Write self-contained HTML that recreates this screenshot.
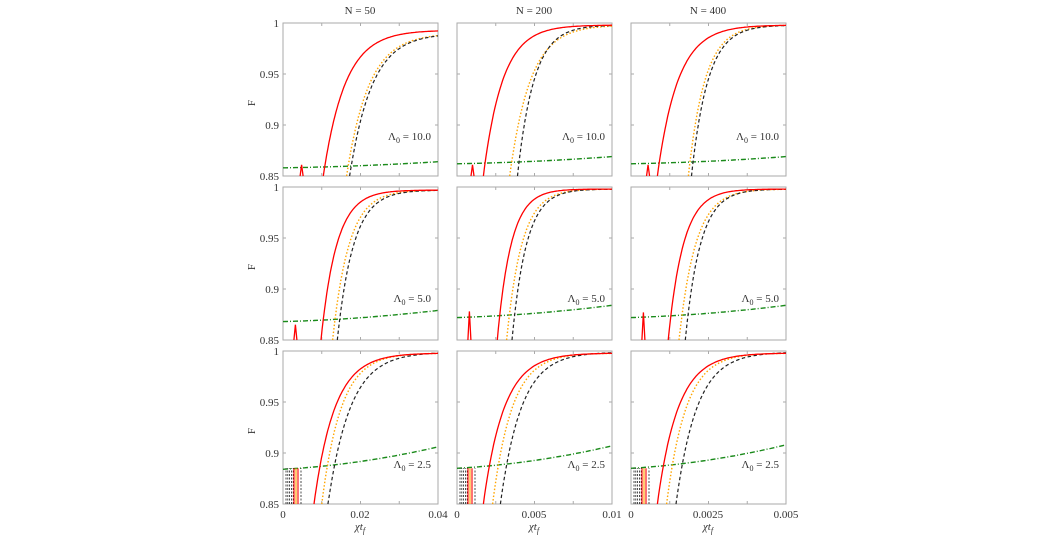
<!DOCTYPE html>
<html><head><meta charset="utf-8"><style>
html,body{margin:0;padding:0;background:#fff;}
svg{display:block;font-family:"Liberation Serif",serif;}
</style></head><body>
<svg id="s" width="1047" height="535" viewBox="0 0 1047 535" xmlns="http://www.w3.org/2000/svg">
<g font-size="11" fill="#333">
<text x="360" y="14" text-anchor="middle">N = 50</text>
<text x="534" y="14" text-anchor="middle">N = 200</text>
<text x="708" y="14" text-anchor="middle">N = 400</text>
<g text-anchor="end">
<text x="279" y="27">1</text><text x="279" y="78">0.95</text><text x="279" y="129">0.9</text><text x="279" y="180">0.85</text>
<text x="279" y="191">1</text><text x="279" y="242">0.95</text><text x="279" y="293">0.9</text><text x="279" y="344">0.85</text>
<text x="279" y="355">1</text><text x="279" y="406">0.95</text><text x="279" y="457">0.9</text><text x="279" y="508">0.85</text>
</g>
<text x="255" y="103" transform="rotate(-90 255 103)" text-anchor="middle">F</text>
<text x="255" y="267" transform="rotate(-90 255 267)" text-anchor="middle">F</text>
<text x="255" y="431" transform="rotate(-90 255 431)" text-anchor="middle">F</text>
<g text-anchor="middle">
<text x="283" y="518">0</text><text x="360" y="518">0.02</text><text x="438" y="518">0.04</text>
<text x="457" y="518">0</text><text x="534" y="518">0.005</text><text x="612" y="518">0.01</text>
<text x="631" y="518">0</text><text x="708" y="518">0.0025</text><text x="786" y="518">0.005</text>
<text x="360" y="530" font-style="italic">χt<tspan font-size="8" dy="3">f</tspan></text>
<text x="534" y="530" font-style="italic">χt<tspan font-size="8" dy="3">f</tspan></text>
<text x="708" y="530" font-style="italic">χt<tspan font-size="8" dy="3">f</tspan></text>
</g>
</g>
<g id="plots"></g>
</svg>
<script>
var cols=[283,457,631], rows=[23,187,351], W=155, H=153;
var P=[
 // row, col, red[x0,xh,Fm], orange, black, green[a,b], spike[x,h], label
 [0,0,[0.26,0.43,0.993],[0.41,0.59,0.99],[0.43,0.61,0.99],[0.858,0.864],[0.12,0.861],"10.0"],
 [0,1,[0.17,0.31,0.998],[0.34,0.49,0.998],[0.39,0.51,0.998],[0.862,0.869],[0.10,0.861],"10.0"],
 [0,2,[0.17,0.32,0.998],[0.37,0.49,0.998],[0.39,0.51,0.998],[0.862,0.869],[0.11,0.861],"10.0"],
 [1,0,[0.245,0.36,0.997],[0.32,0.44,0.997],[0.35,0.47,0.997],[0.868,0.879],[0.08,0.865],"5.0"],
 [1,1,[0.26,0.36,0.998],[0.32,0.43,0.998],[0.355,0.46,0.998],[0.872,0.884],[0.08,0.878],"5.0"],
 [1,2,[0.24,0.35,0.998],[0.31,0.43,0.998],[0.35,0.46,0.998],[0.872,0.884],[0.08,0.877],"5.0"],
 [2,0,[0.2,0.35,0.998],[0.25,0.39,0.998],[0.29,0.45,0.999],[0.884,0.906],null,"2.5"],
 [2,1,[0.17,0.32,0.998],[0.23,0.37,0.998],[0.28,0.43,0.999],[0.885,0.907],null,"2.5"],
 [2,2,[0.17,0.32,0.998],[0.23,0.37,0.998],[0.29,0.44,0.999],[0.885,0.908],null,"2.5"]
];
var g=document.getElementById('plots'),h='';
function curve(p,ox,oy){var x0=p[0],xh=p[1],Fm=p[2];var k=-Math.log((Fm-0.95)/(Fm-0.85))/(xh-x0);var d='';
 for(var i=0;i<=100;i++){var x=x0+(1-x0)*i/100;var F=Fm-(Fm-0.85)*Math.exp(-k*(x-x0));d+=(i?'L':'M')+(ox+x*W).toFixed(1)+','+(oy+(1-F)/0.15*H).toFixed(1);}return d;}
P.forEach(function(q){var ox=cols[q[1]],oy=rows[q[0]];
 h+='<rect x="'+ox+'" y="'+oy+'" width="'+W+'" height="'+H+'" fill="none" stroke="#aaa" stroke-width="1"/>';
 for(var t=1;t<4;t++){var yy=oy+H*t/3;h+='<line x1="'+ox+'" x2="'+(ox+3)+'" y1="'+yy+'" y2="'+yy+'" stroke="#aaa"/><line x1="'+(ox+W-3)+'" x2="'+(ox+W)+'" y1="'+yy+'" y2="'+yy+'" stroke="#aaa"/>';}
 for(var t=1;t<4;t++){var xx=ox+W*t/4;h+='<line x1="'+xx+'" x2="'+xx+'" y1="'+(oy+H-3)+'" y2="'+(oy+H)+'" stroke="#aaa"/><line x1="'+xx+'" x2="'+xx+'" y1="'+oy+'" y2="'+(oy+3)+'" stroke="#aaa"/>';}
 var ga=q[5][0],gb=q[5][1],d='';
 for(var i=0;i<=50;i++){var x=i/50;var F=ga+(gb-ga)*x*x*0.6+(gb-ga)*0.4*x;d+=(i?'L':'M')+(ox+x*W).toFixed(1)+','+(oy+(1-F)/0.15*H).toFixed(1);}
 h+='<path d="'+d+'" fill="none" stroke="#1a8a1a" stroke-width="1.4" stroke-dasharray="5,2,1,2"/>';
 if(q[6]){var sx=ox+q[6][0]*W,sy=oy+(1-q[6][1])/0.15*H;h+='<path d="M'+(sx-1.5)+','+(oy+H)+'L'+sx+','+sy+'L'+(sx+1.5)+','+(oy+H)+'" fill="none" stroke="red" stroke-width="1.3"/>';}
 else{var ty=oy+(1-0.885)/0.15*H;
  for(var j=0;j<5;j++){var xx=ox+3+j*1.8;h+='<line x1="'+xx+'" x2="'+xx+'" y1="'+(oy+H)+'" y2="'+ty+'" stroke="#222" stroke-width="0.8" stroke-dasharray="2,1.5"/>';}
  for(var j=0;j<3;j++){var xx=ox+11+j*2;h+='<line x1="'+xx+'" x2="'+xx+'" y1="'+(oy+H)+'" y2="'+ty+'" stroke="'+(j==1?'orange':'red')+'" stroke-width="1.1"/>';}
  h+='<line x1="'+(ox+18)+'" x2="'+(ox+18)+'" y1="'+(oy+H)+'" y2="'+ty+'" stroke="#222" stroke-width="0.8" stroke-dasharray="2,1.5"/>';}
 h+='<path d="'+curve(q[3],ox,oy)+'" fill="none" stroke="orange" stroke-width="1.4" stroke-dasharray="1.5,2"/>';
 h+='<path d="'+curve(q[4],ox,oy)+'" fill="none" stroke="#222" stroke-width="1.2" stroke-dasharray="3.5,2.5"/>';
 h+='<path d="'+curve(q[2],ox,oy)+'" fill="none" stroke="red" stroke-width="1.3"/>';
});
g.innerHTML=h;
</script>
<svg width="0" height="0"></svg>
<div style="position:absolute;left:0;top:0;width:1047px;height:535px;pointer-events:none;">
<svg width="1047" height="535" style="position:absolute;left:0;top:0" font-family="Liberation Serif, serif" font-size="11" fill="#333">
<text x="431" y="140" text-anchor="end">Λ<tspan font-size="8" dy="3">0</tspan><tspan dy="-3"> = 10.0</tspan></text>
<text x="605" y="140" text-anchor="end">Λ<tspan font-size="8" dy="3">0</tspan><tspan dy="-3"> = 10.0</tspan></text>
<text x="779" y="140" text-anchor="end">Λ<tspan font-size="8" dy="3">0</tspan><tspan dy="-3"> = 10.0</tspan></text>
<text x="431" y="302" text-anchor="end">Λ<tspan font-size="8" dy="3">0</tspan><tspan dy="-3"> = 5.0</tspan></text>
<text x="605" y="302" text-anchor="end">Λ<tspan font-size="8" dy="3">0</tspan><tspan dy="-3"> = 5.0</tspan></text>
<text x="779" y="302" text-anchor="end">Λ<tspan font-size="8" dy="3">0</tspan><tspan dy="-3"> = 5.0</tspan></text>
<text x="431" y="468" text-anchor="end">Λ<tspan font-size="8" dy="3">0</tspan><tspan dy="-3"> = 2.5</tspan></text>
<text x="605" y="468" text-anchor="end">Λ<tspan font-size="8" dy="3">0</tspan><tspan dy="-3"> = 2.5</tspan></text>
<text x="779" y="468" text-anchor="end">Λ<tspan font-size="8" dy="3">0</tspan><tspan dy="-3"> = 2.5</tspan></text>
</svg></div>
</body></html>
